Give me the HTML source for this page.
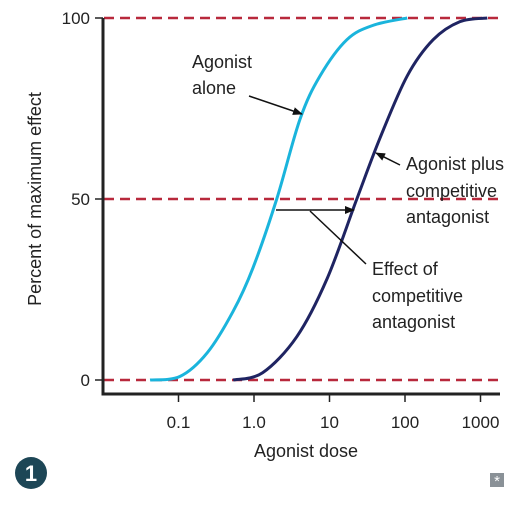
<!DOCTYPE html>
<html><head><meta charset="utf-8"><style>
html,body{margin:0;padding:0;background:#fff;}
svg{display:block;font-family:"Liberation Sans",Arial,sans-serif;}
</style></head><body>
<svg id="chart" width="532" height="509" viewBox="0 0 532 509">
<g id="grid"></g>
<g id="axes"></g>
<g id="curves"></g>
<g id="notes"></g>
</svg>
<script>
const tickValues=[0.1,1,10,100,1000];
const tickLabels=["0.1","1.0","10","100","1000"];
const yTicks=[0,50,100];
const yTickLabels=["0","50","100"];
const aloneDose=[0.042,0.105,0.24,0.53,0.97,2.0,4.06,7.5,17,38,107];
const alonePct=[0,1,7.5,19,31,50,72,84,94,98,100];
const plusDose=[0.53,1.3,3.7,9.3,23,47,107,236,535,1230];
const plusPct=[0,2,12,28,50,67,84,94,99,100];
const NS="http://www.w3.org/2000/svg";
const X=v=>254+75.5*Math.log10(v);
const Y=p=>380-3.62*p;
function mk(tag,attrs,parent,txt){const e=document.createElementNS(NS,tag);for(const k in attrs)e.setAttribute(k,attrs[k]);if(txt!==undefined)e.textContent=txt;document.getElementById(parent).appendChild(e);return e;}
yTicks.forEach((t,i)=>{
 const l=mk('line',{x1:104,x2:500,y1:Y(t),y2:Y(t),stroke:'#b8293c','stroke-width':2.5,'stroke-dasharray':'10 6'},'grid');
 
 
 const tk=mk('line',{x1:95,x2:103,y1:Y(t),y2:Y(t),stroke:'#222','stroke-width':1.5},'axes');
 
 
 const tx=mk('text',{x:90,y:Y(t)+6,'text-anchor':'end','font-size':17,fill:'#222'},'axes',yTickLabels[i]);
 
 
});
const ax=mk('path',{d:'M103,18 L103,394 L500,394',fill:'none',stroke:'#222','stroke-width':3},'axes');


tickValues.forEach((v,i)=>{
 const tk=mk('line',{x1:X(v),x2:X(v),y1:394,y2:402,stroke:'#222','stroke-width':1.5},'axes');
 
 
 const tx=mk('text',{x:X(v),y:428,'text-anchor':'middle','font-size':17,fill:'#222'},'axes',tickLabels[i]);
 
 
});
const xt=mk('text',{x:306,y:457,'text-anchor':'middle','font-size':18,fill:'#222'},'axes','Agonist dose');


const yt=mk('text',{x:0,y:0,'text-anchor':'middle','font-size':18,fill:'#222',transform:'translate(41,199) rotate(-90)'},'axes','Percent of maximum effect');


function curve(ds,ps){const pts=ds.map((d,i)=>[X(d),Y(ps[i])]);let d='M'+pts[0].join(',');
 for(let i=0;i<pts.length-1;i++){const p0=pts[Math.max(0,i-1)],p1=pts[i],p2=pts[i+1],p3=pts[Math.min(pts.length-1,i+2)];
 d+=` C${p1[0]+(p2[0]-p0[0])/6},${p1[1]+(p2[1]-p0[1])/6} ${p2[0]-(p3[0]-p1[0])/6},${p2[1]-(p3[1]-p1[1])/6} ${p2[0]},${p2[1]}`;}
 return d;}
const c1=mk('path',{d:curve(aloneDose,alonePct),fill:'none',stroke:'#1ab4dc','stroke-width':3},'curves');


const c2=mk('path',{d:curve(plusDose,plusPct),fill:'none',stroke:'#1f2462','stroke-width':3},'curves');


</script>
<script>
(function(){
const svg=document.getElementById('chart');
svg.insertAdjacentHTML('beforeend',`
<defs><marker id="ah" markerWidth="10" markerHeight="8" refX="9" refY="4" orient="auto" markerUnits="userSpaceOnUse"><path d="M0,0 L10,4 L0,8 z" fill="#111"/></marker></defs>
<g font-size="18" fill="#222">
<text x="192" y="68">Agonist</text>
<text x="192" y="94">alone</text>
<line x1="249" y1="96" x2="302" y2="114" stroke="#111" stroke-width="1.5" marker-end="url(#ah)"/>
<text x="406" y="170">Agonist plus</text>
<text x="406" y="197">competitive</text>
<text x="406" y="223">antagonist</text>
<line x1="400" y1="165" x2="376" y2="153" stroke="#111" stroke-width="1.5" marker-end="url(#ah)"/>
<line x1="276" y1="210" x2="354" y2="210" stroke="#111" stroke-width="1.5" marker-end="url(#ah)"/>
<line x1="310" y1="211" x2="366" y2="264" stroke="#111" stroke-width="1.5"/>
<text x="372" y="275">Effect of</text>
<text x="372" y="302">competitive</text>
<text x="372" y="328">antagonist</text>
</g>
<g><circle cx="31" cy="473" r="16" fill="#1d4656"/><text x="31" y="481" text-anchor="middle" font-size="22" font-weight="bold" fill="#fff">1</text></g>
<g><rect x="490" y="473" width="14" height="14" fill="#8a9197"/><text x="497" y="486" text-anchor="middle" font-size="15" fill="#fff">*</text></g>
`);
})();
</script>
</body></html>
